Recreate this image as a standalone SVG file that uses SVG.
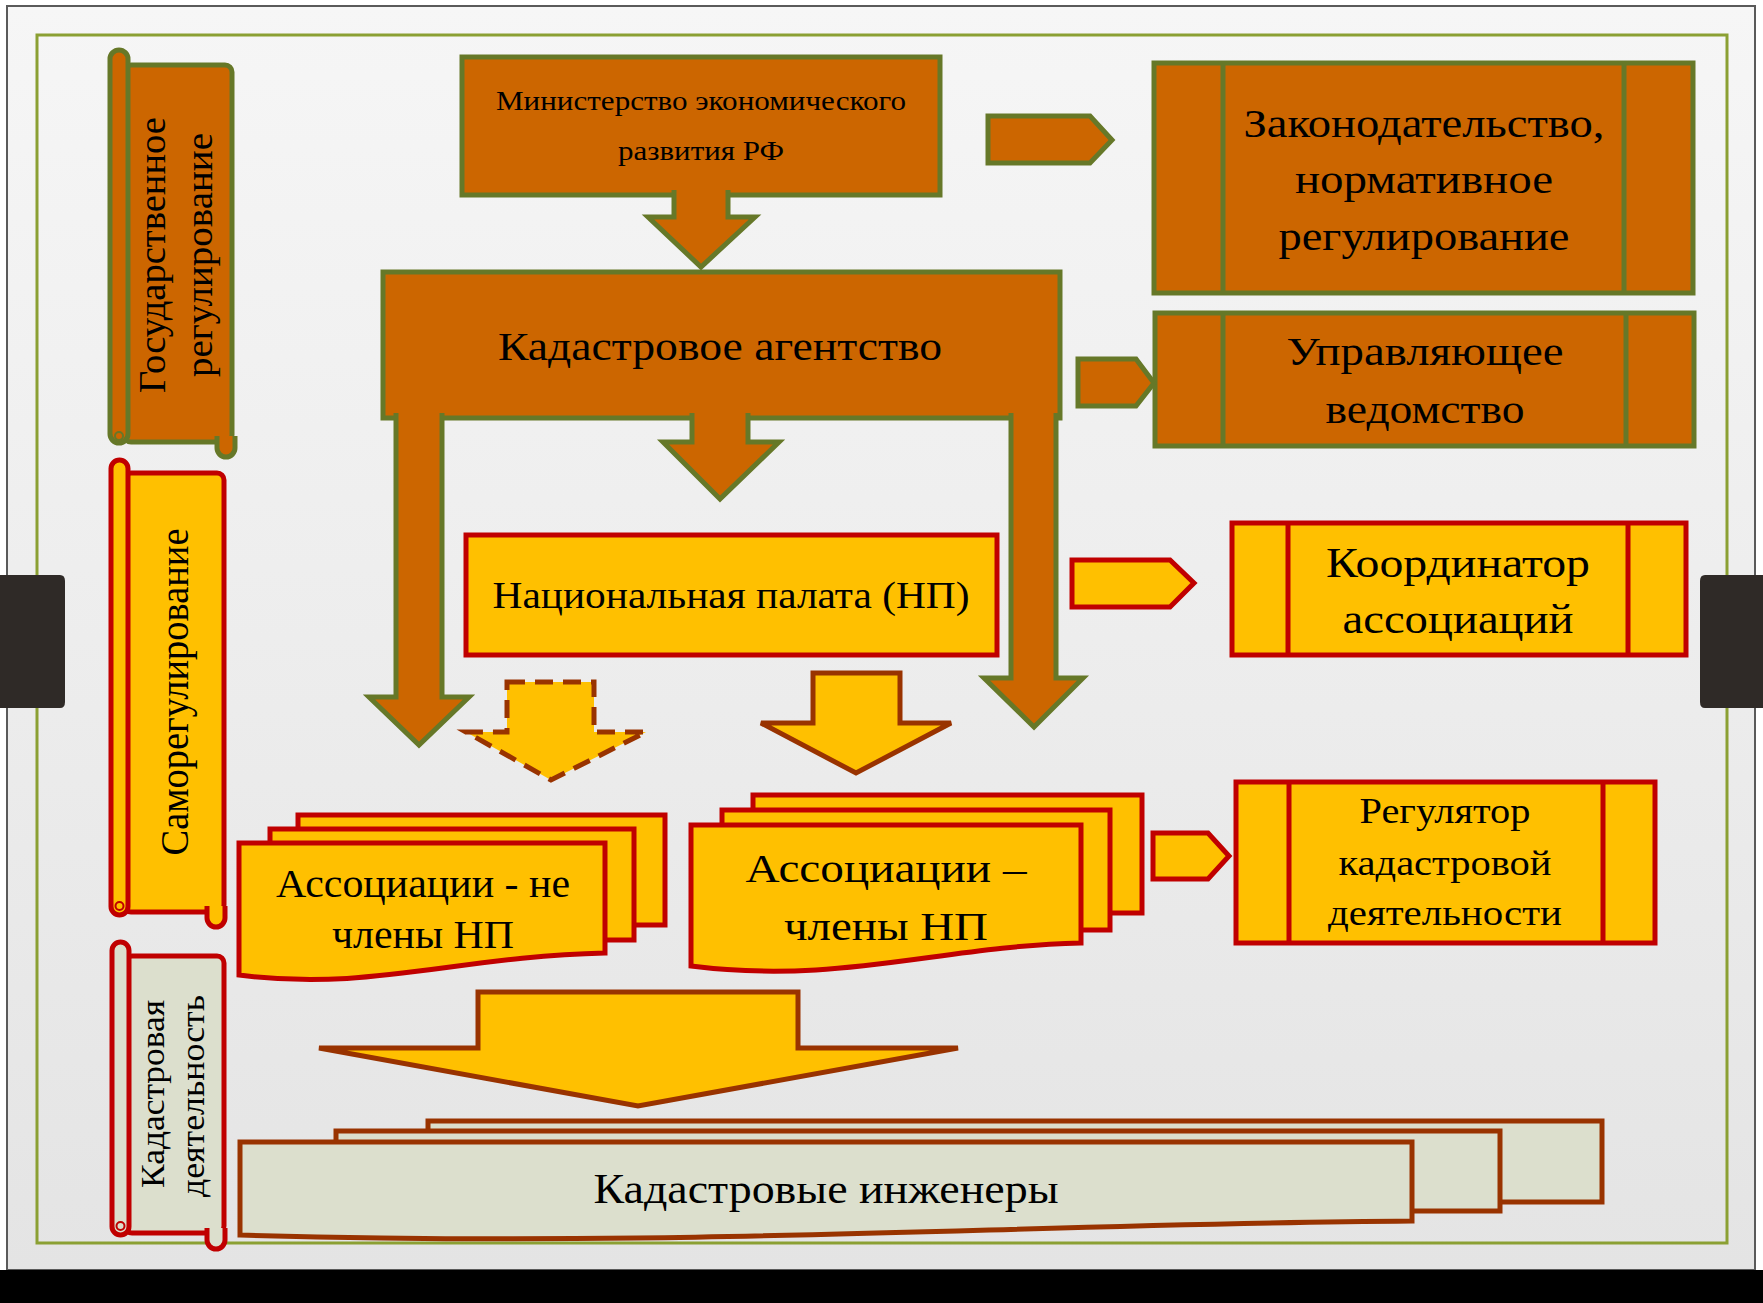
<svg xmlns="http://www.w3.org/2000/svg" width="1763" height="1303" viewBox="0 0 1763 1303">
<defs>
<linearGradient id="page" x1="0" y1="0" x2="0" y2="1">
<stop offset="0" stop-color="#F6F6F6"/>
<stop offset="1" stop-color="#E4E4E4"/>
</linearGradient>
<style>
.og{fill:#CC6600;stroke:#667828;stroke-width:5;stroke-linejoin:miter}
.yr{fill:#FFC000;stroke:#C00000;stroke-width:5;stroke-linejoin:miter}
.yb{fill:#FFC000;stroke:#993300;stroke-width:5;stroke-linejoin:miter}
.gb{fill:#DCDFCD;stroke:#993300;stroke-width:5;stroke-linejoin:miter}
.gr{fill:#DCDFCD;stroke:#C00000;stroke-width:5;stroke-linejoin:miter}
.dash{fill:#FFC000;stroke:#993300;stroke-width:5;stroke-dasharray:18 10}
.thin{fill:none;stroke-width:2}
text{font-family:"Liberation Serif","Times New Roman",serif;fill:#000;text-anchor:middle}
</style>
</defs>
<rect x="0" y="0" width="1763" height="1303" fill="#FFFFFF"/>
<rect x="7" y="6" width="1748" height="1264" fill="url(#page)" stroke="#5A5A5A" stroke-width="2"/>
<rect x="0" y="1270" width="1763" height="33" fill="#000000"/>
<rect x="37" y="35" width="1690" height="1208" fill="none" stroke="#8BA033" stroke-width="3"/>
<path d="M0,575 H60 Q65,575 65,581 V702 Q65,708 60,708 H0 Z" fill="#2F2A27"/>
<path d="M1763,575 H1705 Q1700,575 1700,581 V702 Q1700,708 1705,708 H1763 Z" fill="#2F2A27"/>

<g id="gov-scroll">
<rect class="og" x="124" y="65" width="108" height="377" rx="7"/>
<path class="og" d="M217,436 V448 A9,9 0 0 0 235,448 V436"/>
<rect class="og" x="110" y="50" width="18" height="393" rx="9"/>
<circle cx="119" cy="436" r="4" class="thin" stroke="#667828"/>
<text transform="translate(165,255) rotate(-90)" font-size="38" textLength="276" lengthAdjust="spacingAndGlyphs">Государственное</text>
<text transform="translate(212,255) rotate(-90)" font-size="38" textLength="244" lengthAdjust="spacingAndGlyphs">регулирование</text>
</g>

<g id="selfreg-scroll">
<rect class="yr" x="124" y="473" width="100" height="439" rx="7"/>
<path class="yr" d="M207,906 V918 A9,9 0 0 0 225,918 V906"/>
<rect class="yr" x="111" y="460" width="17" height="455" rx="8.5"/>
<circle cx="119.5" cy="906" r="4" class="thin" stroke="#C00000"/>
<text transform="translate(188,692) rotate(-90)" font-size="40" textLength="327" lengthAdjust="spacingAndGlyphs">Саморегулирование</text>
</g>

<g id="cad-scroll">
<rect class="gr" x="125" y="956" width="99" height="277" rx="7"/>
<path class="gr" d="M207,1228 V1240 A9,9 0 0 0 225,1240 V1228"/>
<rect class="gr" x="112" y="942" width="17" height="293" rx="8.5"/>
<circle cx="120.5" cy="1226" r="4" class="thin" stroke="#C00000"/>
<text transform="translate(164,1094) rotate(-90)" font-size="34" textLength="188" lengthAdjust="spacingAndGlyphs">Кадастровая</text>
<text transform="translate(204,1096) rotate(-90)" font-size="34" textLength="202" lengthAdjust="spacingAndGlyphs">деятельность</text>
</g>

<g id="ministry">
<rect class="og" x="462" y="57" width="478" height="138"/>
<text x="701" y="110" font-size="28" textLength="410" lengthAdjust="spacingAndGlyphs">Министерство экономического</text>
<text x="701" y="160" font-size="28" textLength="166" lengthAdjust="spacingAndGlyphs">развития РФ</text>
</g>

<g id="agency">
<rect class="og" x="383" y="272" width="677" height="146"/>
<text x="720" y="360" font-size="41" textLength="444" lengthAdjust="spacingAndGlyphs">Кадастровое агентство</text>
</g>

<g id="legislation">
<rect class="og" x="1154" y="63" width="539" height="230"/>
<line x1="1223" y1="63" x2="1223" y2="293" stroke="#667828" stroke-width="5"/>
<line x1="1624" y1="63" x2="1624" y2="293" stroke="#667828" stroke-width="5"/>
<text x="1424" y="137" font-size="41" textLength="361" lengthAdjust="spacingAndGlyphs">Законодательство,</text>
<text x="1424" y="193" font-size="41" textLength="258" lengthAdjust="spacingAndGlyphs">нормативное</text>
<text x="1424" y="250" font-size="41" textLength="291" lengthAdjust="spacingAndGlyphs">регулирование</text>
</g>

<g id="governing">
<rect class="og" x="1155" y="313" width="539" height="133"/>
<line x1="1223" y1="313" x2="1223" y2="446" stroke="#667828" stroke-width="5"/>
<line x1="1626" y1="313" x2="1626" y2="446" stroke="#667828" stroke-width="5"/>
<text x="1425" y="365" font-size="41" textLength="277" lengthAdjust="spacingAndGlyphs">Управляющее</text>
<text x="1425" y="423" font-size="41" textLength="199" lengthAdjust="spacingAndGlyphs">ведомство</text>
</g>

<g id="national-chamber">
<rect class="yr" x="466" y="535" width="531" height="120"/>
<text x="731" y="608" font-size="37" textLength="477" lengthAdjust="spacingAndGlyphs">Национальная палата (НП)</text>
</g>

<g id="coordinator">
<rect class="yr" x="1232" y="523" width="454" height="132"/>
<line x1="1288" y1="523" x2="1288" y2="655" stroke="#C00000" stroke-width="5"/>
<line x1="1628" y1="523" x2="1628" y2="655" stroke="#C00000" stroke-width="5"/>
<text x="1458" y="577" font-size="42" textLength="264" lengthAdjust="spacingAndGlyphs">Координатор</text>
<text x="1458" y="633" font-size="42" textLength="231" lengthAdjust="spacingAndGlyphs">ассоциаций</text>
</g>

<g id="regulator">
<rect class="yr" x="1236" y="782" width="419" height="161"/>
<line x1="1289" y1="782" x2="1289" y2="943" stroke="#C00000" stroke-width="5"/>
<line x1="1603" y1="782" x2="1603" y2="943" stroke="#C00000" stroke-width="5"/>
<text x="1445" y="823" font-size="36" textLength="171" lengthAdjust="spacingAndGlyphs">Регулятор</text>
<text x="1445" y="875" font-size="36" textLength="213" lengthAdjust="spacingAndGlyphs">кадастровой</text>
<text x="1445" y="925" font-size="36" textLength="234" lengthAdjust="spacingAndGlyphs">деятельности</text>
</g>

<g id="non-members">
<rect class="yr" x="298" y="815" width="367" height="110"/>
<rect class="yr" x="270" y="829" width="364" height="111"/>
<path class="yr" d="M239,843 H605 V953 C460,956 370,992 239,975 Z"/>
<text x="423" y="897" font-size="39" textLength="294" lengthAdjust="spacingAndGlyphs">Ассоциации - не</text>
<text x="423" y="948" font-size="39" textLength="182" lengthAdjust="spacingAndGlyphs">члены НП</text>
</g>

<g id="members">
<rect class="yr" x="753" y="795" width="389" height="118"/>
<rect class="yr" x="722" y="810" width="388" height="120"/>
<path class="yr" d="M691,825 H1081 V943 C940,946 840,985 691,966 Z"/>
<text x="886" y="882" font-size="41" textLength="281" lengthAdjust="spacingAndGlyphs">Ассоциации –</text>
<text x="886" y="940" font-size="41" textLength="204" lengthAdjust="spacingAndGlyphs">члены НП</text>
</g>

<g id="engineers">
<rect class="gb" x="428" y="1121" width="1174" height="81"/>
<rect class="gb" x="336" y="1131" width="1164" height="80"/>
<path class="gb" d="M240,1142 H1412 V1221 C1000,1224 700,1248 240,1235 Z"/>
<text x="826" y="1203" font-size="43" textLength="465" lengthAdjust="spacingAndGlyphs">Кадастровые инженеры</text>
</g>

<g id="connectors">
<path class="og" d="M674,190 V217 H648 L701,267 L755,217 H728 V190"/>
<path class="og" d="M692,413 V442 H663 L720,499 L779,442 H748 V413"/>
<path class="og" d="M396,413 V697 H369 L419,745 L469,697 H442 V413"/>
<path class="og" d="M1011,413 V678 H984 L1034,727 L1083,678 H1056 V413"/>
<path class="og" d="M988,116 H1090 L1112,140 L1090,163 H988 Z"/>
<path class="og" d="M1078,359 H1136 L1154,383 L1136,406 H1078 Z"/>
<path class="yr" d="M1072,560 H1170 L1194,583 L1170,607 H1072 Z"/>
<path class="yr" d="M1153,833 H1208 L1229,856 L1208,879 H1153 Z"/>
<path class="dash" d="M507,682 H594 V732 H646 L551,780 L466,732 H507 Z"/>
<path class="yb" d="M813,673 H900 V723 H951 L856,773 L761,723 H813 Z"/>
<path class="yb" d="M478,992 H798 V1048 H958 L638,1106 L319,1048 H478 Z"/>
</g>
</svg>
